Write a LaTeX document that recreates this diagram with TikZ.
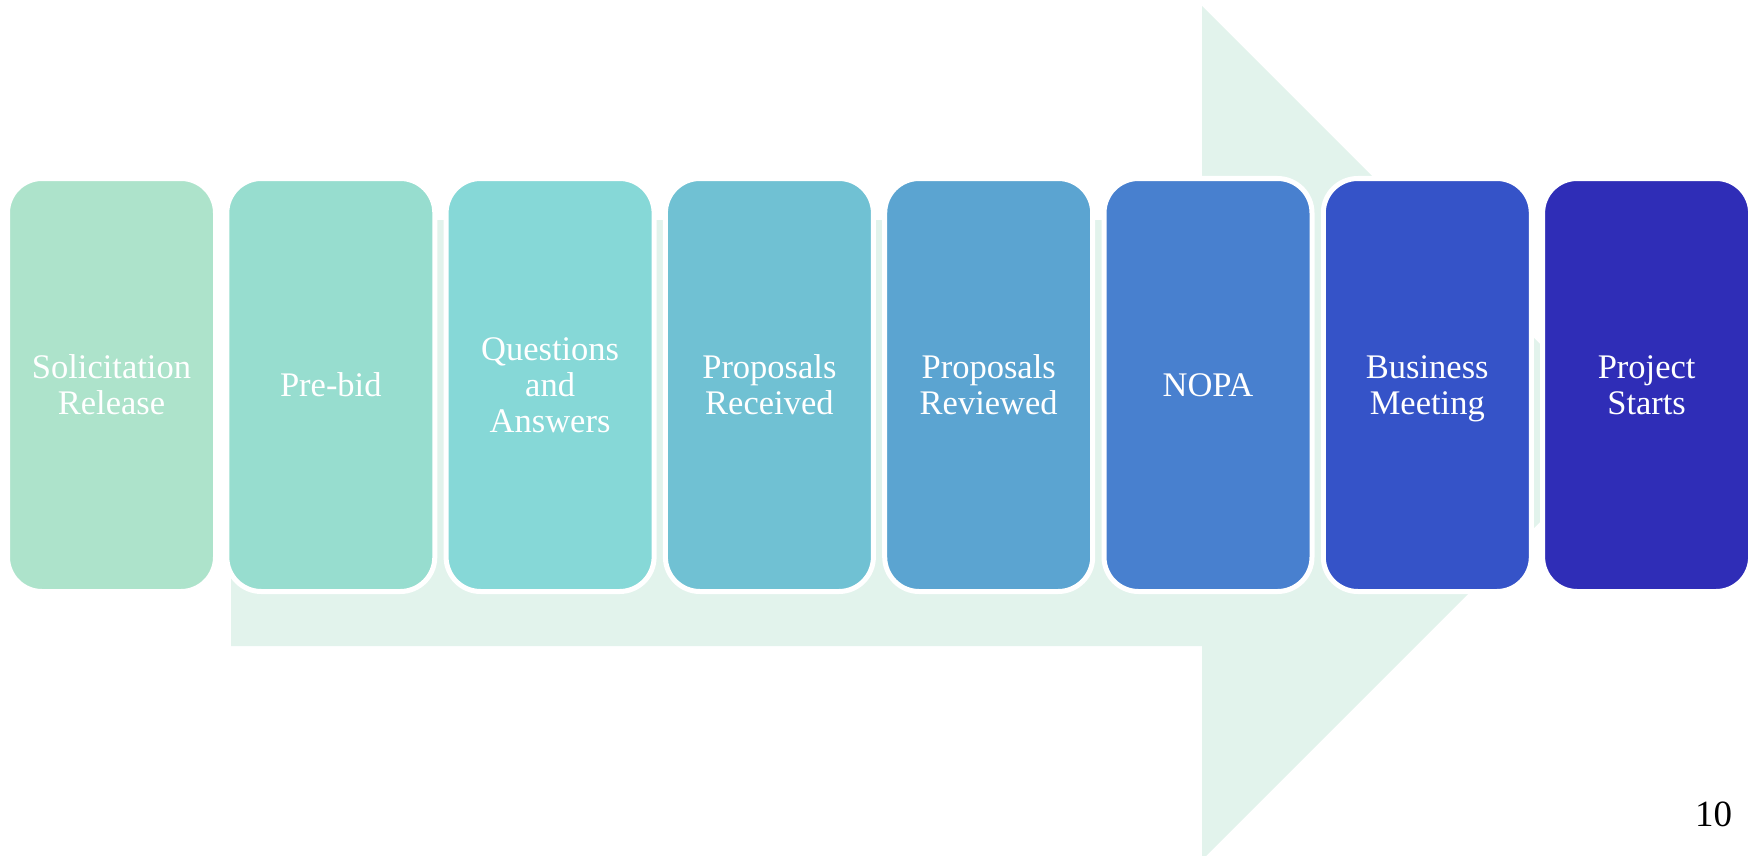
\documentclass[tikz,border=0pt]{standalone}
\usepackage{fontspec}
\setmainfont{Liberation Serif}
\definecolor{arrowc}{HTML}{E2F3EC}
\definecolor{c1}{HTML}{ADE3CB}
\definecolor{c2}{HTML}{97DDCF}
\definecolor{c3}{HTML}{86D8D7}
\definecolor{c4}{HTML}{70C1D3}
\definecolor{c5}{HTML}{5BA4D1}
\definecolor{c6}{HTML}{4880CF}
\definecolor{c7}{HTML}{3553C8}
\definecolor{c8}{HTML}{2F2DB7}
\begin{document}
\begin{tikzpicture}[x=1pt,y=-1pt,
  stage/.style={rectangle, rounded corners=34.5pt, draw=white, line width=5pt,
    minimum width=208pt, minimum height=413pt, inner sep=0pt, text depth=0pt,
    text=white, align=center, font=\fontsize{34.5}{36}\selectfont},
  pagenum/.style={anchor=base, inner sep=0pt, font=\fontsize{37}{40}\selectfont}]
\useasboundingbox (0,0) rectangle (1754,856);
\begin{scope}
\clip (0,0) rectangle (1754,856);
\fill[arrowc] (231,220) -- (1202,220) -- (1202,6) -- (1629,433) -- (1202,860)
  -- (1202,646) -- (231,646) -- cycle;
\end{scope}
\node[stage, fill=c1] (s1) at (111.5,385) {Solicitation\\Release};
\node[stage, fill=c2] (s2) at (330.8,385) {Pre-bid};
\node[stage, fill=c3] (s3) at (550.1,385) {Questions\\and\\Answers};
\node[stage, fill=c4] (s4) at (769.4,385) {Proposals\\Received};
\node[stage, fill=c5] (s5) at (988.7,385) {Proposals\\Reviewed};
\node[stage, fill=c6] (s6) at (1208.0,385) {NOPA};
\node[stage, fill=c7] (s7) at (1427.3,385) {Business\\Meeting};
\node[stage, fill=c8] (s8) at (1646.6,385) {Project\\Starts};
\node[pagenum] (pg) at (1713.5,826.7) {10};
\end{tikzpicture}
\end{document}
